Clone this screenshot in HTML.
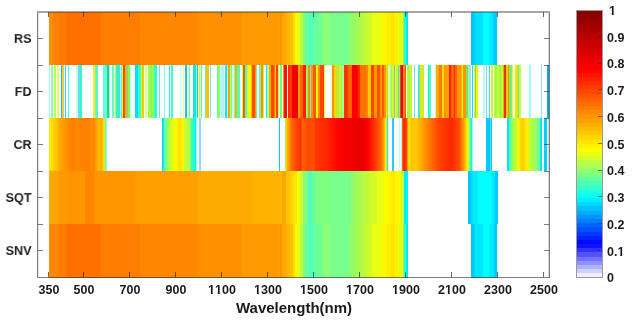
<!DOCTYPE html>
<html><head><meta charset="utf-8"><style>
*{margin:0;padding:0;box-sizing:border-box}
html,body{width:632px;height:322px;background:#fff;overflow:hidden}
body{position:relative;font-family:"Liberation Sans",sans-serif;font-weight:bold;color:#1a1a1a}
.xl,.yl,.cl,.xt{will-change:transform}
.row{position:absolute;left:49px;width:500px}
.ln{position:absolute;background:rgba(45,45,45,.62)}
.tx{position:absolute;background:rgba(40,40,40,.7)}
.t{position:absolute;background:rgba(45,45,45,.62)}
.xl{position:absolute;top:281.9px;width:60px;text-align:center;font-size:12.5px;line-height:14px;transform:scaleY(1.085);transform-origin:50% 0}
.yl{position:absolute;left:0;width:31.6px;text-align:right;font-size:13.3px;line-height:16px;transform:scale(0.95,0.98);transform-origin:100% 50%}
.cb{position:absolute;left:576px;top:9.5px;width:27px;height:268.5px;border:1px solid #9a9a9a;background:linear-gradient(to bottom,#850000 0.00px 4.18px,#8e0000 4.18px 8.36px,#970000 8.36px 12.54px,#a00000 12.54px 16.72px,#a90000 16.72px 20.90px,#b20000 20.90px 25.08px,#bb0000 25.08px 29.26px,#c40000 29.26px 33.44px,#cd0000 33.44px 37.62px,#d60000 37.62px 41.80px,#df0000 41.80px 45.98px,#e80000 45.98px 50.16px,#f10000 50.16px 54.34px,#fa0000 54.34px 58.52px,#ff0500 58.52px 62.70px,#ff1300 62.70px 66.88px,#ff2000 66.88px 71.05px,#ff2d00 71.05px 75.23px,#ff3a00 75.23px 79.41px,#ff4700 79.41px 83.59px,#ff5400 83.59px 87.77px,#ff6100 87.77px 91.95px,#ff6e00 91.95px 96.13px,#ff7b00 96.13px 100.31px,#ff8800 100.31px 104.49px,#ff9500 104.49px 108.67px,#ffa200 108.67px 112.85px,#ffaf00 112.85px 117.03px,#ffbc00 117.03px 121.21px,#ffc900 121.21px 125.39px,#ffd700 125.39px 129.57px,#ffe400 129.57px 133.75px,#fff100 133.75px 137.93px,#fffe00 137.93px 142.11px,#ebff15 142.11px 146.29px,#d4ff2b 146.29px 150.47px,#bdff42 150.47px 154.65px,#a7ff59 154.65px 158.83px,#90ff70 158.83px 163.01px,#79ff87 163.01px 167.19px,#62ff9d 167.19px 171.37px,#4bffb4 171.37px 175.55px,#35ffcb 175.55px 179.73px,#1effe2 179.73px 183.91px,#07fff8 183.91px 188.09px,#00efff 188.09px 192.27px,#00d8ff 192.27px 196.45px,#00c2ff 196.45px 200.62px,#00abff 200.62px 204.80px,#0094ff 204.80px 208.98px,#007dff 208.98px 213.16px,#0066ff 213.16px 217.34px,#0050ff 217.34px 221.52px,#0039ff 221.52px 225.70px,#0022ff 225.70px 229.88px,#000bff 229.88px 234.06px,#1111ff 234.06px 238.24px,#3333ff 238.24px 242.42px,#5252ff 242.42px 246.60px,#7272ff 246.60px 250.78px,#9191ff 250.78px 254.96px,#b1b1ff 254.96px 259.14px,#d0d0ff 259.14px 263.32px,#efefff 263.32px 267.50px);background-origin:border-box}
.one{display:inline-block;line-height:14px;vertical-align:baseline;clip-path:polygon(0 0,100% 0,100% 9.4px,4.75px 9.4px,4.75px 100%,2.8px 100%,2.8px 9.4px,0 9.4px)}
.cl{position:absolute;left:607.3px;font-size:12.5px;line-height:16px;transform:scaleY(1.05)}
.xt{position:absolute;left:193.5px;width:200px;top:299.3px;text-align:center;font-size:15px;line-height:17px}
</style></head><body>
<div class="row" style="top:12px;height:53px;background:linear-gradient(to right,#ff9100 0.0px 1.5px,#ff8c00 1.5px 3.9px,#ff8200 3.9px 9.0px,#ff7a00 9.0px 16.6px,#ff7000 16.6px 51.7px,#ff7d00 51.7px 91.0px,#ff8700 91.0px 148.8px,#ff9100 148.8px 193.0px,#ff9b00 193.0px 228.7px,#ffa200 228.7px 231.0px,#ff9100 231.0px 233.5px,#ffaa00 233.5px 238.2px,#ffb900 238.2px 241.0px,#ffc300 241.0px 244.2px,#ffdc00 244.2px 245.7px,#fffa00 245.7px 249.3px,#e6ff1e 249.3px 251.3px,#beff3c 251.3px 253.7px,#82ff78 253.7px 255.6px,#64ffa0 255.6px 260.0px,#50ffbe 260.0px 263.9px,#64ffa0 263.9px 268.7px,#73ff91 268.7px 274.2px,#8cff78 274.2px 281.0px,#78ff8c 281.0px 301.3px,#96fa64 301.3px 307.1px,#aafa50 307.1px 312.6px,#befa3c 312.6px 318.2px,#d2fa28 318.2px 323.4px,#ebff14 323.4px 331.6px,#fffa00 331.6px 337.3px,#fff000 337.3px 342.0px,#ffe100 342.0px 345.2px,#fff000 345.2px 349.0px,#f0ff00 349.0px 350.2px,#dcff1e 350.2px 352.5px,#f0ff00 352.5px 353.7px,#82ff8c 353.7px 355.0px,#28ffd2 355.0px 357.5px,#00ebf0 357.5px 359.1px,#ffffff 359.1px 421.8px,#00c3ff 421.8px 425.5px,#00d7ff 425.5px 427.1px,#00e1ff 427.1px 434.4px,#00ffff 434.4px 439.7px,#00ebff 439.7px 443.8px,#00cdff 443.8px 447.6px,#ffffff 447.6px 500.0px)"></div><div class="row" style="top:65px;height:53px;background:linear-gradient(to right,#96ffff 0.0px 0.7px,#ffffff 0.7px 1.9px,#96ff96 1.9px 3.9px,#ffffff 3.9px 5.1px,#b4ff64 5.1px 7.1px,#ffffff 7.1px 7.9px,#e6ff64 7.9px 10.1px,#ffffff 10.1px 11.8px,#00c8ff 11.8px 12.8px,#ffc832 12.8px 15.4px,#ffffff 15.4px 15.9px,#00e6ff 15.9px 17.4px,#ffffff 17.4px 18.9px,#32ffff 18.9px 19.9px,#ffffff 19.9px 26.9px,#c8ffdc 26.9px 29.2px,#64dcff 29.2px 31.2px,#32ffb4 31.2px 33.2px,#ffffff 33.2px 43.8px,#ffe150 43.8px 46.1px,#82ff64 46.1px 47.3px,#50ffc8 47.3px 48.9px,#ffffff 48.9px 54.1px,#64f0ff 54.1px 55.2px,#64ffdc 55.2px 56.8px,#96ff64 56.8px 58.0px,#00d2e6 58.0px 60.4px,#a0ffa0 60.4px 61.2px,#ffffff 61.2px 63.2px,#64ffc8 63.2px 64.7px,#e6fff0 64.7px 66.3px,#c8ff32 66.3px 67.5px,#32f0c8 67.5px 70.7px,#dcffff 70.7px 71.9px,#32ffff 71.9px 73.0px,#fff000 73.0px 73.8px,#ff4600 73.8px 76.2px,#e6b400 76.2px 77.4px,#aac864 77.4px 78.6px,#82fa50 78.6px 81.3px,#c8ffff 81.3px 82.1px,#ffffff 82.1px 86.5px,#00e1ff 86.5px 88.9px,#3cffc8 88.9px 91.9px,#c8ff28 91.9px 93.5px,#ffc800 93.5px 94.7px,#fff0b4 94.7px 95.5px,#ffffff 95.5px 96.3px,#dcff96 96.3px 97.9px,#ffffff 97.9px 99.4px,#a0ff3c 99.4px 101.8px,#64ff8c 101.8px 103.0px,#96ff50 103.0px 105.0px,#32fac8 105.0px 107.8px,#ffffff 107.8px 109.7px,#50f0ff 109.7px 110.9px,#ffffff 110.9px 114.9px,#82ffff 114.9px 116.1px,#ffffff 116.1px 120.0px,#32f0dc 120.0px 121.2px,#dcffdc 121.2px 122.4px,#46fadc 122.4px 123.6px,#ffffff 123.6px 131.5px,#dcf5ff 131.5px 133.1px,#ffffff 133.1px 133.9px,#dcffa0 133.9px 135.4px,#ffffff 135.4px 136.1px,#28bee6 136.1px 137.7px,#c8ffe6 137.7px 138.5px,#f0ffb4 138.5px 139.7px,#50fad2 139.7px 140.9px,#ffffff 140.9px 144.0px,#14e6dc 144.0px 146.8px,#aaf0ff 146.8px 147.6px,#00d2f0 147.6px 148.8px,#f0ffa0 148.8px 149.6px,#f0f01e 149.6px 151.2px,#dcffc8 151.2px 151.7px,#50fac8 151.7px 153.2px,#ffffff 153.2px 155.9px,#64fab4 155.9px 157.1px,#ffc300 157.1px 159.9px,#e6faff 159.9px 160.7px,#78e1ff 160.7px 162.3px,#ffffff 162.3px 167.8px,#50ffa0 167.8px 169.0px,#96ff5a 169.0px 171.3px,#c8faff 171.3px 172.1px,#b4f0ff 172.1px 175.3px,#ffffff 175.3px 176.1px,#00f0ff 176.1px 178.1px,#dce6c8 178.1px 179.2px,#ffa500 179.2px 180.7px,#c8ff28 180.7px 182.3px,#64ffc8 182.3px 183.5px,#c8ffff 183.5px 185.1px,#82ff96 185.1px 186.3px,#ffb400 186.3px 188.3px,#50ffb4 188.3px 190.6px,#ffffff 190.6px 192.6px,#c8ff28 192.6px 193.8px,#ff5a00 193.8px 196.2px,#50fac8 196.2px 197.8px,#c8ff32 197.8px 198.9px,#fffa00 198.9px 202.1px,#ffbe00 202.1px 203.3px,#ff5000 203.3px 205.7px,#ff9600 205.7px 206.9px,#64ff96 206.9px 208.0px,#ffffff 208.0px 209.6px,#78dcff 209.6px 211.2px,#82ff8c 211.2px 212.4px,#ff9600 212.4px 213.6px,#c8ff3c 213.6px 214.8px,#ffffff 214.8px 216.7px,#00f0ff 216.7px 217.9px,#96ffff 217.9px 219.1px,#c8ff3c 219.1px 220.3px,#ffaa00 220.3px 221.6px,#ffc800 221.6px 222.2px,#ff4600 222.2px 224.6px,#ff8200 224.6px 225.7px,#ffc800 225.7px 226.9px,#ff4600 226.9px 228.9px,#c8ff3c 228.9px 229.7px,#ffffff 229.7px 230.9px,#64ff96 230.9px 232.9px,#e6ffe6 232.9px 234.1px,#ff8c00 234.1px 234.8px,#fa1400 234.8px 237.6px,#ff9600 237.6px 238.4px,#ffffff 238.4px 239.0px,#ff2800 239.0px 240.8px,#ff3c00 240.8px 243.2px,#f00000 243.2px 249.5px,#ffa000 249.5px 251.1px,#ff6400 251.1px 254.2px,#ff1e00 254.2px 256.6px,#c8ff32 256.6px 257.4px,#8cff5a 257.4px 259.0px,#e69600 259.0px 260.6px,#8cff64 260.6px 261.4px,#82dcff 261.4px 262.1px,#ff9600 262.1px 263.7px,#ff5a00 263.7px 266.9px,#ffaa00 266.9px 267.2px,#fffa00 267.2px 269.3px,#ff8c00 269.3px 270.7px,#ff4600 270.7px 274.7px,#c8ff3c 274.7px 275.9px,#ffffff 275.9px 282.2px,#e6ffb4 282.2px 283.4px,#ff9600 283.4px 285.4px,#ffd200 285.4px 287.8px,#8cfa64 287.8px 289.7px,#ffe600 289.7px 292.1px,#8cff64 292.1px 292.9px,#78ffff 292.9px 294.1px,#c8ff32 294.1px 295.3px,#ff3200 295.3px 299.2px,#ff6400 299.2px 302.8px,#fa0000 302.8px 308.7px,#ff2800 308.7px 311.1px,#ff7300 311.1px 315.0px,#ff6e00 315.0px 317.3px,#ff8700 317.3px 318.9px,#ffc800 318.9px 322.5px,#ff4600 322.5px 325.2px,#ff9600 325.2px 327.6px,#ff5000 327.6px 330.8px,#ff9600 330.8px 333.2px,#ff5a00 333.2px 335.5px,#ff9600 335.5px 336.7px,#aaff3c 336.7px 338.3px,#f0c800 338.3px 339.5px,#dcffb4 339.5px 340.7px,#f0ff00 340.7px 341.9px,#64ffb4 341.9px 343.4px,#c8ff32 343.4px 344.6px,#ffaa00 344.6px 345.8px,#96ffff 345.8px 347.4px,#b4ff32 347.4px 349.0px,#e6b414 349.0px 350.2px,#50faf0 350.2px 351.3px,#b45a3c 351.3px 352.5px,#fa0000 352.5px 354.1px,#ff8c00 354.1px 355.7px,#ff5000 355.7px 356.9px,#ffffff 356.9px 358.1px,#aaff3c 358.1px 360.7px,#e6ff00 360.7px 361.9px,#96ff64 361.9px 362.7px,#ffffff 362.7px 364.7px,#78dcff 364.7px 365.9px,#ffffff 365.9px 369.1px,#3cf0c8 369.1px 371.0px,#ffe100 371.0px 374.2px,#96ff64 374.2px 375.0px,#ffffff 375.0px 379.0px,#00f0ff 379.0px 380.1px,#50ffaa 380.1px 382.5px,#ffffff 382.5px 386.1px,#c8ffc8 386.1px 387.2px,#ffaa00 387.2px 390.0px,#ff7800 390.0px 392.8px,#ffdc00 392.8px 394.8px,#ff9600 394.8px 397.1px,#ffa000 397.1px 399.9px,#ff1e00 399.9px 401.9px,#ff5a00 401.9px 402.2px,#ff6400 402.2px 405.0px,#ff2800 405.0px 406.5px,#ff6400 406.5px 408.5px,#ff9600 408.5px 411.7px,#ffbe00 411.7px 412.9px,#fff000 412.9px 414.4px,#ff9600 414.4px 417.2px,#78e664 417.2px 418.8px,#96ff78 418.8px 420.4px,#96e6ff 420.4px 421.6px,#ffffff 421.6px 422.8px,#00e6ff 422.8px 424.3px,#ffffff 424.3px 425.1px,#aaff96 425.1px 426.3px,#ffb400 426.3px 427.5px,#dcff00 427.5px 429.1px,#f0ffdc 429.1px 429.9px,#ffffff 429.9px 434.2px,#b4fff0 434.2px 436.2px,#ffffff 436.2px 437.4px,#8cd2ff 437.4px 438.2px,#ffffff 438.2px 439.8px,#28e6ff 439.8px 441.0px,#ffffff 441.0px 442.1px,#dcf032 442.1px 444.1px,#f0ffdc 444.1px 445.3px,#c8ff3c 445.3px 446.1px,#96ff50 446.1px 448.2px,#d2ff28 448.2px 450.4px,#96ff50 450.4px 451.7px,#b4ff3c 451.7px 453.8px,#ffaa00 453.8px 455.1px,#f03200 455.1px 456.9px,#ffc800 456.9px 458.6px,#ff9600 458.6px 460.4px,#82e664 460.4px 461.7px,#64f0a0 461.7px 463.0px,#f0ff00 463.0px 463.8px,#ffffff 463.8px 466.5px,#c8ff3c 466.5px 467.3px,#ffdc00 467.3px 469.1px,#64e696 469.1px 470.4px,#c8ff3c 470.4px 471.7px,#64e6ff 471.7px 472.5px,#ffffff 472.5px 480.0px,#96ffff 480.0px 481.7px,#ffffff 481.7px 492.1px,#96dcff 492.1px 493.4px,#ffffff 493.4px 498.2px,#00b4f0 498.2px 500.0px)"></div><div class="row" style="top:118px;height:53px;background:linear-gradient(to right,#ffeb00 0.0px 1.5px,#ffdc00 2.7px,#ffd200 5.1px,#ffc300 7.6px,#ffaa00 10.8px,#ff9b00 14.6px,#ff8c00 19.3px,#ff7d00 23.5px,#ff8700 27.1px,#ff8400 33.6px,#ff8000 40.3px,#ff9100 43.1px,#ff8200 44.6px,#ffa000 47.1px,#ffb900 49.5px,#ffaf00 52.6px,#f0f000 55.4px,#64ffaa 56.0px 57.2px,#96ffdc 57.2px 58.0px,#ffffff 58.0px 112.7px,#00dcff 112.7px 113.9px,#50ffbe 115.5px,#96ff64 118.5px,#c8ff28 121.4px,#e6ff0a 124.2px,#fffa00 126.8px,#ffeb00 128.9px,#ffe100 130.9px,#fff500 133.7px,#c8ff32 136.1px,#aaff50 138.1px,#c8ff32 140.2px,#3cffbe 142.4px,#28ffc8 144.6px,#00f0f5 146.8px,#ffffff 147.9px 150.3px,#8cdcff 150.3px 152.3px,#ffffff 152.3px 229.7px,#00d2ff 229.7px 231.3px,#ffffff 231.3px 235.6px,#aaff50 235.6px 236.8px,#ffc800 237.4px,#ffaa00 239.2px,#ff6e00 242.1px,#ff4600 247.1px,#ff3200 251.5px,#ff6400 253.8px,#ff4600 258.9px,#ff5000 264.5px,#ff3700 267.1px,#ff2d00 271.8px,#ff2300 278.2px,#ff1400 283.4px,#ff0000 289.8px,#f00000 302.8px,#e80000 313.8px,#ff0000 318.5px,#ff2800 324.1px,#ff5000 328.8px,#ff6e00 332.4px,#ffa000 334.7px,#ffe600 336.5px,#96ff64 337.9px,#32e6f0 338.3px 339.1px,#dcfaff 339.1px 340.3px,#ffffff 340.3px 343.0px,#32c8ff 343.0px 345.0px,#ffffff 345.0px 349.8px,#c8f5ff 349.8px 351.0px,#ffffff 351.0px 351.7px,#b4ffe6 351.7px 352.9px,#ff5a00 353.5px,#fa1e00 355.3px,#ff4600 357.4px,#fff000 359.9px,#ffbe00 362.7px,#ffcd00 367.0px,#ffaa00 372.2px,#ff8c00 376.9px,#ff6e00 382.5px,#ff4100 390.8px,#ff2800 402.6px,#ff5000 410.5px,#ff8c00 413.6px,#ffbe00 416.2px,#fff000 418.0px,#c8ff32 419.6px,#50ffb4 421.2px,#00f0f0 422.9px,#ffffff 423.9px 437.0px,#00c8ff 437.0px 440.6px,#64d2ff 440.6px 441.7px,#00c8ff 441.7px 442.9px,#ffffff 442.9px 457.7px,#00e6ff 457.7px 459.5px,#50fab4 460.6px,#8cff64 462.8px,#b4ff3c 465.1px,#c8ff28 467.6px,#fff000 469.9px,#ffc800 473.4px,#fff000 478.2px,#aaff50 483.0px,#96ff64 487.2px,#64ffa0 490.4px,#00e6ff 491.7px 493.0px,#ffffff 493.0px 494.7px,#00d2ff 494.7px 498.2px,#ffffff 498.2px 500.0px)"></div><div class="row" style="top:171px;height:53px;background:linear-gradient(to right,#ffaf00 0.0px 1.5px,#ffa500 1.5px 8.7px,#ff9b00 8.7px 16.6px,#ff9600 16.6px 35.6px,#ff8700 35.6px 45.0px,#ff9600 45.0px 86.2px,#ffa000 86.2px 149.5px,#ffaa00 149.5px 203.4px,#ffb200 203.4px 233.5px,#ffa500 233.5px 236.6px,#ffc300 236.6px 240.6px,#ffd200 240.6px 244.5px,#ffe600 244.5px 247.7px,#faff00 247.7px 250.9px,#c8ff32 250.9px 254.0px,#82ff82 254.0px 258.8px,#50ffbe 258.8px 263.5px,#6eff96 263.5px 267.5px,#7dff82 267.5px 281.0px,#78ff8c 281.0px 301.6px,#96fa64 301.6px 307.1px,#aafa50 307.1px 314.2px,#befa3c 314.2px 319.8px,#d2fa28 319.8px 327.7px,#ebff14 327.7px 334.8px,#fffa00 334.8px 341.9px,#ffeb00 341.9px 345.9px,#fff500 345.9px 350.6px,#e6ff00 350.6px 353.0px,#b4ff50 353.0px 354.6px,#00f0f0 354.6px 358.8px,#ffffff 358.8px 418.8px,#00c8ff 418.8px 422.5px,#00dcff 422.5px 424.4px,#00ebff 424.4px 428.8px,#00ffff 428.8px 442.6px,#00e6ff 442.6px 445.8px,#00c8ff 445.8px 449.0px,#ffffff 449.0px 500.0px)"></div><div class="row" style="top:224px;height:54px;background:linear-gradient(to right,#ff9100 0.0px 1.5px,#ff8700 1.5px 8.7px,#ff7d00 8.7px 16.6px,#ff7000 16.6px 51.7px,#ff7d00 51.7px 91.0px,#ff8700 91.0px 148.8px,#ff9100 148.8px 193.0px,#ff9b00 193.0px 228.7px,#ffa200 228.7px 231.0px,#ff9100 231.0px 233.5px,#ffaa00 233.5px 238.2px,#ffb900 238.2px 241.0px,#ffc300 241.0px 244.2px,#ffdc00 244.2px 245.7px,#fffa00 245.7px 249.3px,#e6ff1e 249.3px 251.3px,#beff3c 251.3px 253.7px,#82ff78 253.7px 255.6px,#64ffa0 255.6px 260.0px,#50ffbe 260.0px 263.9px,#64ffa0 263.9px 268.7px,#73ff91 268.7px 274.2px,#8cff78 274.2px 281.0px,#78ff8c 281.0px 301.3px,#96fa64 301.3px 307.1px,#aafa50 307.1px 312.6px,#befa3c 312.6px 318.2px,#d2fa28 318.2px 323.4px,#ebff14 323.4px 331.6px,#fffa00 331.6px 337.3px,#fff000 337.3px 342.0px,#ffe100 342.0px 345.2px,#fff000 345.2px 349.0px,#f0ff00 349.0px 350.2px,#dcff1e 350.2px 352.5px,#f0ff00 352.5px 353.7px,#82ff8c 353.7px 355.0px,#28ffd2 355.0px 357.5px,#00ebf0 357.5px 359.1px,#ffffff 359.1px 421.7px,#00c8ff 421.7px 424.8px,#00d7ff 424.8px 426.4px,#00e6ff 426.4px 434.3px,#00ffff 434.3px 440.3px,#00ebff 440.3px 445.0px,#00cdff 445.0px 447.8px,#ffffff 447.8px 500.0px)"></div>
<div class="ln" style="left:37px;top:11px;width:513px;height:2px;background:rgba(45,45,45,.42)"></div>
<div class="ln" style="left:37px;top:277px;width:513px;height:1px"></div>
<div class="ln" style="left:37px;top:13px;width:1px;height:264px"></div>
<div class="ln" style="left:38px;top:13px;width:1px;height:264px;background:rgba(45,45,45,.12)"></div>
<div class="ln" style="left:549px;top:13px;width:1px;height:264px"></div>
<div class="ln" style="left:548px;top:13px;width:1px;height:264px;background:rgba(45,45,45,.2)"></div>
<div class="tx" style="left:48px;top:12px;width:1px;height:5px"></div><div class="tx" style="left:48px;top:272px;width:1px;height:5px"></div><div class="xl" style="left:19.0px">350</div><div class="tx" style="left:83px;top:12px;width:1px;height:5px"></div><div class="tx" style="left:83px;top:272px;width:1px;height:5px"></div><div class="xl" style="left:53.5px">500</div><div class="tx" style="left:129px;top:12px;width:1px;height:5px"></div><div class="tx" style="left:129px;top:272px;width:1px;height:5px"></div><div class="xl" style="left:99.6px">700</div><div class="tx" style="left:175px;top:12px;width:1px;height:5px"></div><div class="tx" style="left:175px;top:272px;width:1px;height:5px"></div><div class="xl" style="left:145.6px">900</div><div class="tx" style="left:221px;top:12px;width:1px;height:5px"></div><div class="tx" style="left:221px;top:272px;width:1px;height:5px"></div><div class="xl" style="left:191.6px"><span class="one">1</span><span class="one">1</span>00</div><div class="tx" style="left:267px;top:12px;width:1px;height:5px"></div><div class="tx" style="left:267px;top:272px;width:1px;height:5px"></div><div class="xl" style="left:237.7px"><span class="one">1</span>300</div><div class="tx" style="left:313px;top:12px;width:1px;height:5px"></div><div class="tx" style="left:313px;top:272px;width:1px;height:5px"></div><div class="xl" style="left:283.7px"><span class="one">1</span>500</div><div class="tx" style="left:359px;top:12px;width:1px;height:5px"></div><div class="tx" style="left:359px;top:272px;width:1px;height:5px"></div><div class="xl" style="left:329.8px"><span class="one">1</span>700</div><div class="tx" style="left:405px;top:12px;width:1px;height:5px"></div><div class="tx" style="left:405px;top:272px;width:1px;height:5px"></div><div class="xl" style="left:375.8px"><span class="one">1</span>900</div><div class="tx" style="left:451px;top:12px;width:1px;height:5px"></div><div class="tx" style="left:451px;top:272px;width:1px;height:5px"></div><div class="xl" style="left:421.8px">2<span class="one">1</span>00</div><div class="tx" style="left:497px;top:12px;width:1px;height:5px"></div><div class="tx" style="left:497px;top:272px;width:1px;height:5px"></div><div class="xl" style="left:467.9px">2300</div><div class="tx" style="left:543px;top:12px;width:1px;height:5px"></div><div class="tx" style="left:543px;top:272px;width:1px;height:5px"></div><div class="xl" style="left:513.9px">2500</div><div class="t" style="left:38px;top:38px;width:5px;height:1px"></div><div class="t" style="left:544px;top:38px;width:5px;height:1px"></div><div class="t" style="left:38px;top:65px;width:5px;height:1px"></div><div class="t" style="left:544px;top:65px;width:5px;height:1px"></div><div class="t" style="left:38px;top:91px;width:5px;height:1px"></div><div class="t" style="left:544px;top:91px;width:5px;height:1px"></div><div class="t" style="left:38px;top:118px;width:5px;height:1px"></div><div class="t" style="left:544px;top:118px;width:5px;height:1px"></div><div class="t" style="left:38px;top:144px;width:5px;height:1px"></div><div class="t" style="left:544px;top:144px;width:5px;height:1px"></div><div class="t" style="left:38px;top:171px;width:5px;height:1px"></div><div class="t" style="left:544px;top:171px;width:5px;height:1px"></div><div class="t" style="left:38px;top:197px;width:5px;height:1px"></div><div class="t" style="left:544px;top:197px;width:5px;height:1px"></div><div class="t" style="left:38px;top:224px;width:5px;height:1px"></div><div class="t" style="left:544px;top:224px;width:5px;height:1px"></div><div class="t" style="left:38px;top:250px;width:5px;height:1px"></div><div class="t" style="left:544px;top:250px;width:5px;height:1px"></div>
<div class="yl" style="top:31.0px">RS</div><div class="yl" style="top:84.0px">FD</div><div class="yl" style="top:137.0px">CR</div><div class="yl" style="top:190.0px">SQT</div><div class="yl" style="top:243.0px">SNV</div>
<div class="cb"></div>
<div class="cl" style="top:270.4px;">0</div><div class="t" style="left:598px;top:250px;width:4px;height:1px"></div><div class="cl" style="top:243.7px;">0.<span class="one">1</span></div><div class="t" style="left:598px;top:223px;width:4px;height:1px"></div><div class="cl" style="top:216.9px;">0.2</div><div class="t" style="left:598px;top:196px;width:4px;height:1px"></div><div class="cl" style="top:190.2px;">0.3</div><div class="t" style="left:598px;top:170px;width:4px;height:1px"></div><div class="cl" style="top:163.4px;">0.4</div><div class="t" style="left:598px;top:143px;width:4px;height:1px"></div><div class="cl" style="top:136.7px;">0.5</div><div class="t" style="left:598px;top:116px;width:4px;height:1px"></div><div class="cl" style="top:109.9px;">0.6</div><div class="t" style="left:598px;top:89px;width:4px;height:1px"></div><div class="cl" style="top:83.2px;">0.7</div><div class="t" style="left:598px;top:63px;width:4px;height:1px"></div><div class="cl" style="top:56.4px;">0.8</div><div class="t" style="left:598px;top:36px;width:4px;height:1px"></div><div class="cl" style="top:29.6px;">0.9</div><div class="cl" style="top:2.9px;margin-left:1.5px"><span class="one">1</span></div>
<div class="xt">Wavelength(nm)</div>
</body></html>
